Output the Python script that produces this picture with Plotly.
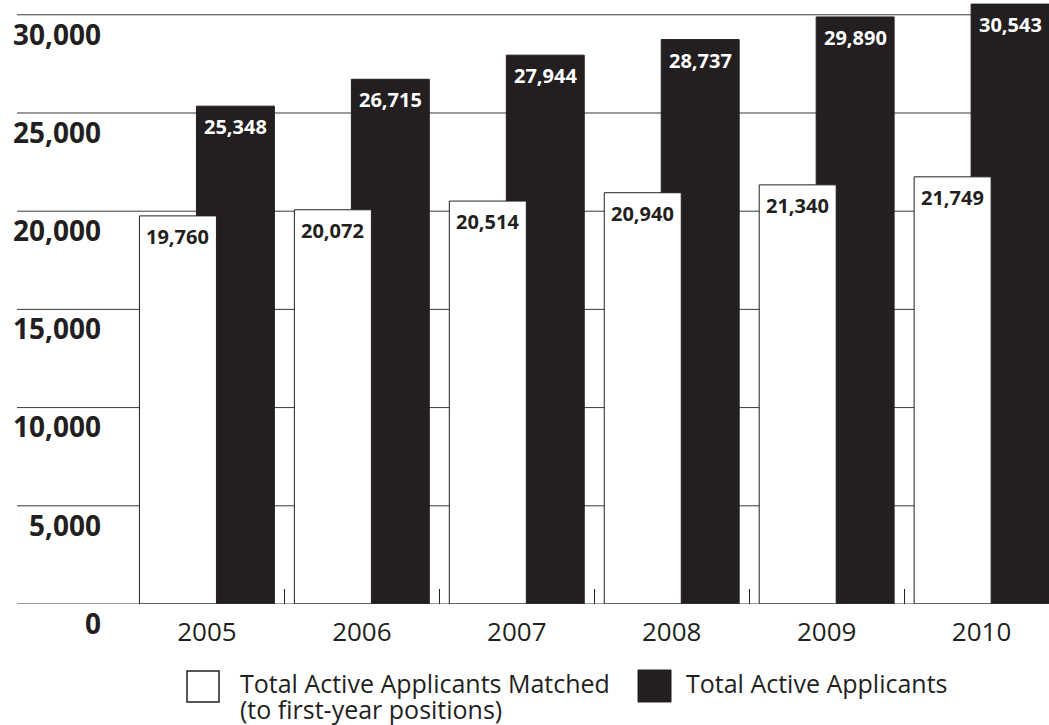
import plotly.graph_objects as go

# ---- data ----
years = ["2005", "2006", "2007", "2008", "2009", "2010"]
matched = [19760, 20072, 20514, 20940, 21340, 21749]
total = [25348, 26715, 27944, 28737, 29890, 30543]
y_ticks = [0, 5000, 10000, 15000, 20000, 25000, 30000]
name_matched_1 = "Total Active Applicants Matched"
name_matched_2 = "(to first-year positions)"
name_total = "Total Active Applicants"

# ---- styles ----
INK = "#231f20"
FONT = "Open Sans"
W, H = 1049, 725
ML, MR, MT, MB = 131, 0, 3, 121
PW, PH = W - ML - MR, H - MT - MB

W_OFF, W_W = -0.4355, 0.497   # white bar offset / width (category units)
B_OFF, B_W = -0.0677, 0.503   # black bar offset / width


def px_x(px):
    return (px - ML) / PW


def px_y(py):
    return (H - MB - py) / PH


fig = go.Figure()

fig.add_trace(go.Bar(
    x=years, y=total, name=name_total,
    offset=B_OFF, width=B_W,
    marker=dict(color=INK, line=dict(color=INK, width=1)),
    showlegend=False, hoverinfo="x+y",
))
fig.add_trace(go.Bar(
    x=years, y=matched, name=name_matched_1,
    offset=W_OFF, width=W_W,
    marker=dict(color="white", line=dict(color=INK, width=1)),
    showlegend=False, hoverinfo="x+y",
))

annotations = []
for i, (m, t) in enumerate(zip(matched, total)):
    annotations.append(dict(
        x=i + W_OFF + W_W / 2, y=m, xref="x", yref="y",
        text=f"{m:,}", showarrow=False, yanchor="top", yshift=-5,
        font=dict(family=FONT, size=20, color=INK, weight="bold"),
    ))
    annotations.append(dict(
        x=i + B_OFF + B_W / 2, y=t, xref="x", yref="y",
        text=f"{t:,}", showarrow=False, yanchor="top", yshift=-5,
        font=dict(family=FONT, size=20, color="white", weight="bold"),
    ))

# legend (drawn manually to match the large swatches)
legend_font = dict(family=FONT, size=25, color=INK)
annotations += [
    dict(x=px_x(238), y=px_y(683.5), xref="paper", yref="paper", text=name_matched_1,
         showarrow=False, xanchor="left", yanchor="middle", font=legend_font),
    dict(x=px_x(238), y=px_y(709), xref="paper", yref="paper", text=name_matched_2,
         showarrow=False, xanchor="left", yanchor="middle", font=legend_font),
    dict(x=px_x(684), y=px_y(683.5), xref="paper", yref="paper", text=name_total,
         showarrow=False, xanchor="left", yanchor="middle", font=legend_font),
]

shapes = []
for v in y_ticks:
    shapes.append(dict(
        type="line", xref="paper", yref="y", x0=px_x(17), x1=1, y0=v, y1=v,
        line=dict(color="#3a3a3a", width=1), layer="below" if v else "above",
    ))
shapes += [
    dict(type="rect", xref="paper", yref="paper",
         x0=px_x(187), x1=px_x(219), y0=px_y(671), y1=px_y(702),
         line=dict(color=INK, width=1.5), fillcolor="white"),
    dict(type="rect", xref="paper", yref="paper",
         x0=px_x(638), x1=px_x(671), y0=px_y(670), y1=px_y(702),
         line=dict(color=INK, width=1), fillcolor=INK),
]

fig.update_layout(
    width=W, height=H,
    margin=dict(l=ML, r=MR, t=MT, b=MB),
    barmode="overlay",
    plot_bgcolor="white", paper_bgcolor="white",
    annotations=annotations, shapes=shapes,
    xaxis=dict(
        type="category", range=[-0.49, 5.435],
        ticks="inside", ticklen=15, tickwidth=1, tickcolor=INK,
        tickson="boundaries", showgrid=False, zeroline=False, showline=False,
        tickfont=dict(family=FONT, size=26, color=INK), ticklabelstandoff=10,
    ),
    yaxis=dict(
        range=[0, 30600], tickvals=y_ticks, tickformat=",d",
        showgrid=False, zeroline=False, showline=False, ticks="",
        tickfont=dict(family=FONT, size=28, color=INK, weight="bold"),
        ticklabelshift=20, ticklabelstandoff=29,
    ),
    font=dict(family=FONT, color=INK),
)

fig.write_html(
    "out.html",
    config={"displayModeBar": False},
    post_script="document.body.style.margin='0';",
)
